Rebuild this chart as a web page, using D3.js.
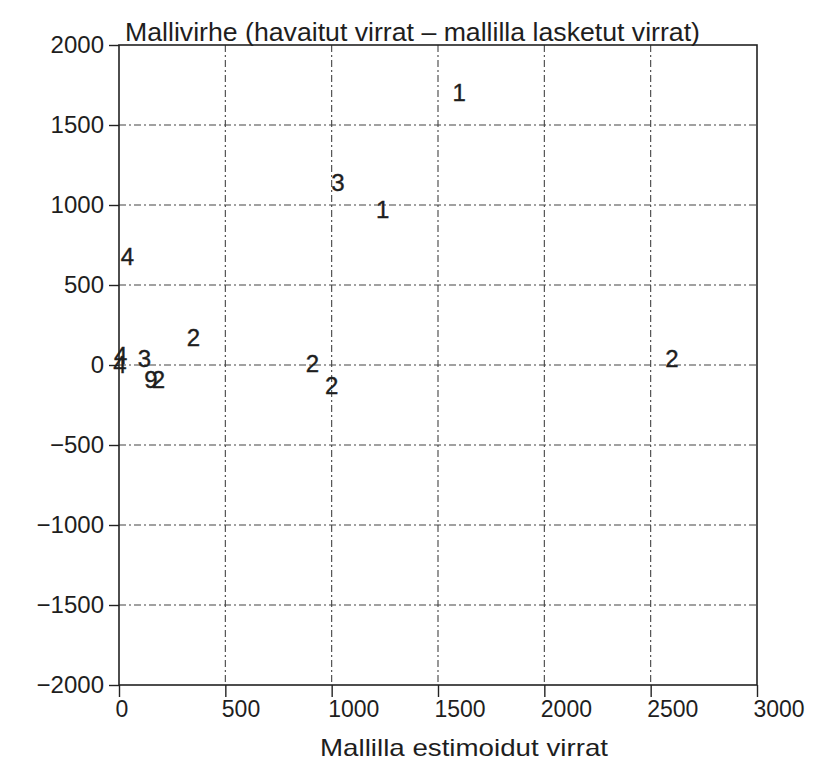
<!DOCTYPE html>
<html>
<head>
<meta charset="utf-8">
<script src="https://cdn.jsdelivr.net/npm/d3@7"></script>
<style>
  body { margin: 0; background: #fff; }
  text { font-family: "Liberation Sans", Arial, sans-serif; fill: #1e1e1e; }
</style>
</head>
<body>
<div id="chart"></div>
<script>
// point labels and their values
let pointLabels = ["1", "3", "1", "4", "2", "3", "9", "2", "2", "2", "2", "4", "4"];
let xValues = [1600, 1030, 1240, 40, 350, 120, 150, 185, 910, 1000, 2600, 8, 4];
let yValues = [1700, 1140, 970, 680, 170, 40, -90, -90, 10, -130, 40, 60, 0];

let xTicks = [0, 500, 1000, 1500, 2000, 2500, 3000];
let yTicks = [2000, 1500, 1000, 500, 0, -500, -1000, -1500, -2000];

let titleText = "Mallivirhe  (havaitut virrat \u2013 mallilla lasketut virrat)";
let xLabelText = "Mallilla estimoidut virrat";

function drawChart() {
    let width = 815, height = 769;
    let margin = {top: 45, left: 119, right: 58, bottom: 84};
    let plotW = width - margin.left - margin.right;
    let plotH = height - margin.top - margin.bottom;

    let svg = d3.select("#chart")
        .append("svg")
        .attr("width", width)
        .attr("height", height);

    let g = svg.append("g")
        .attr("transform", "translate(" + margin.left + "," + margin.top + ")");

    let x = d3.scaleLinear().domain([0, 3000]).range([0, plotW]);
    let y = d3.scaleLinear().domain([-2000, 2000]).range([plotH, 0]);

    // dash-dot grid
    g.selectAll(".vgrid")
        .data(xTicks.filter(function (d) { return d > 0 && d < 3000; }))
        .enter().append("line")
        .attr("x1", function (d) { return x(d); })
        .attr("x2", function (d) { return x(d); })
        .attr("y1", 0)
        .attr("y2", plotH)
        .attr("stroke", "#444")
        .attr("stroke-width", 1.1)
        .attr("stroke-dasharray", "7,3,2,3");

    g.selectAll(".hgrid")
        .data(yTicks.filter(function (d) { return d > -2000 && d < 2000; }))
        .enter().append("line")
        .attr("x1", 0)
        .attr("x2", plotW)
        .attr("y1", function (d) { return y(d); })
        .attr("y2", function (d) { return y(d); })
        .attr("stroke", "#444")
        .attr("stroke-width", 1.1)
        .attr("stroke-dasharray", "7,3,2,3");

    // box
    g.append("rect")
        .attr("width", plotW)
        .attr("height", plotH)
        .attr("fill", "none")
        .attr("stroke", "#222")
        .attr("stroke-width", 1.6);

    // y axis ticks + labels
    let yAxis = d3.axisLeft(y).tickValues(yTicks).tickSize(10).tickPadding(5)
        .tickFormat(function (d) { return d < 0 ? "\u2212" + Math.abs(d) : d; });
    let ya = g.append("g").call(yAxis);
    ya.select(".domain").remove();
    ya.selectAll("line").attr("stroke", "#222").attr("stroke-width", 1.4);
    ya.selectAll("text")
        .style("font-size", "24px")
        .style("font-family", "'Liberation Sans', Arial, sans-serif")
        .attr("fill", "#1e1e1e");

    // x axis ticks + labels
    let xAxis = d3.axisBottom(x).tickValues(xTicks).tickSize(12).tickPadding(4)
        .tickFormat(d3.format("d"));
    let xa = g.append("g").attr("transform", "translate(0," + plotH + ")").call(xAxis);
    xa.select(".domain").remove();
    xa.selectAll("line").attr("stroke", "#222").attr("stroke-width", 1.4);
    xa.selectAll("text")
        .attr("text-anchor", "start")
        .attr("dx", "-4")
        .style("font-size", "23px")
        .style("font-family", "'Liberation Sans', Arial, sans-serif")
        .attr("fill", "#1e1e1e");

    // number markers
    let pts = pointLabels.map(function (lab, i) {
        return {label: lab, x: xValues[i], y: yValues[i]};
    });
    g.selectAll(".pt")
        .data(pts)
        .enter().append("text")
        .attr("class", "pt")
        .attr("x", function (d) { return x(d.x); })
        .attr("y", function (d) { return y(d.y); })
        .attr("dy", "0.35em")
        .attr("text-anchor", "middle")
        .style("font-size", "24px")
        .attr("fill", "#1e1e1e")
        .attr("stroke", "#1e1e1e")
        .attr("stroke-width", 0.4)
        .text(function (d) { return d.label; });

    // title
    svg.append("text")
        .attr("x", 125)
        .attr("y", 41)
        .attr("textLength", 575)
        .attr("lengthAdjust", "spacingAndGlyphs")
        .style("font-size", "25px")
        .text(titleText);

    // x axis title
    svg.append("text")
        .attr("x", 320)
        .attr("y", 756)
        .attr("textLength", 288)
        .attr("lengthAdjust", "spacingAndGlyphs")
        .style("font-size", "24px")
        .text(xLabelText);
}

drawChart();
</script>
</body>
</html>
